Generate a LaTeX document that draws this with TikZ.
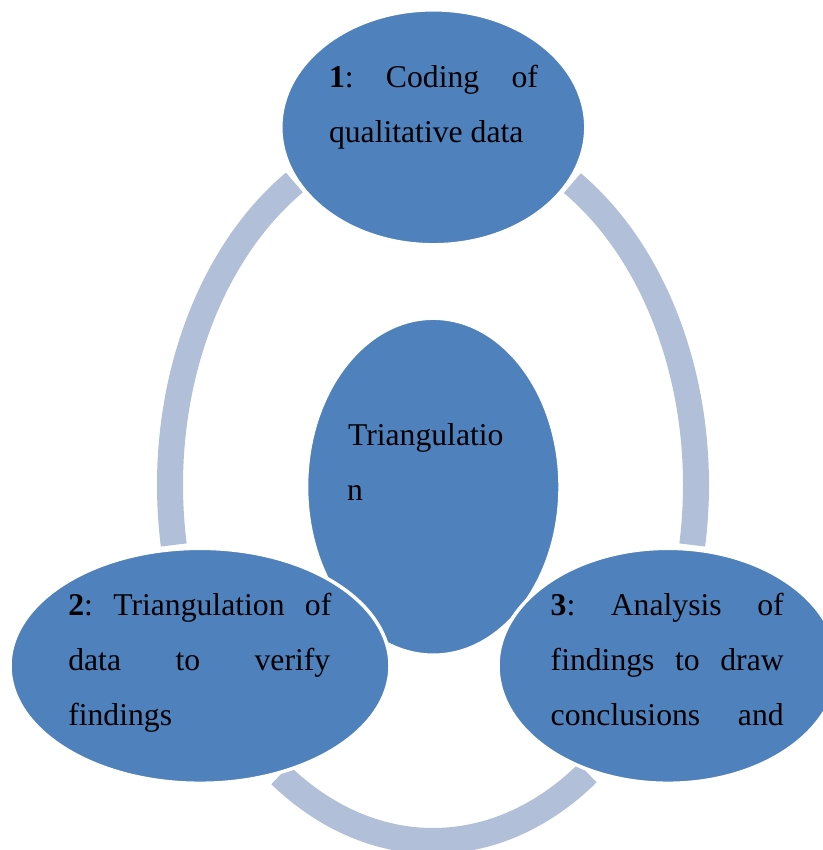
\documentclass[tikz,border=0pt]{standalone}
\usepackage{fontspec}
\setmainfont{Liberation Serif}
\usetikzlibrary{shapes.geometric}
\definecolor{blobblue}{RGB}{79,129,189}
\definecolor{ringblue}{RGB}{177,192,216}
\begin{document}
\begin{tikzpicture}[x=1bp,y=-1bp,
  blob/.style={ellipse, fill=blobblue, draw=white, line width=3.5bp, inner sep=0pt, outer sep=0pt},
  ringarc/.style={draw=ringblue, line width=26bp},
  txt/.style={anchor=base west, inner sep=0pt, outer sep=0pt, font=\fontsize{31.8}{40}\selectfont, text=black}]
\useasboundingbox (0,0) rectangle (823,850);
\clip (0,0) rectangle (823,850);
\fill[white] (0,0) rectangle (823,850);
% ring arcs
\coordinate (rc) at (433,485);
\draw[ringarc] (rc) ++(170.3:263 and 356) arc[start angle=170.3, end angle=238.2, x radius=263, y radius=356];
\draw[ringarc] (rc) ++(-58:263 and 356) arc[start angle=-58, end angle=9.7, x radius=263, y radius=356];
\draw[ringarc] (rc) ++(54:263 and 356) arc[start angle=54, end angle=125.5, x radius=263, y radius=356];
% ellipses
\node[blob, minimum width=253.5bp, minimum height=337bp] (cen) at (433.3,486.7) {};
\node[blob, minimum width=305bp, minimum height=235bp] (top) at (433.3,127.3) {};
\node[blob, minimum width=380bp, minimum height=235bp] (lft) at (200,665.8) {};
\node[blob, minimum width=340bp, minimum height=235bp] (rgt) at (668,665.8) {};
% texts
\node[txt] (t1a) at (329,87) {\hbox to 209bp{\textbf{1}:\hfill Coding\hfill of}};
\node[txt] (t1b) at (329,142) {qualitative data};
\node[txt] (tca) at (348,445) {Triangulatio};
\node[txt] (tcb) at (347,500) {n};
\node[txt] (t2a) at (68.3,615) {\hbox to 263bp{\textbf{2}:\hfill Triangulation\hfill of}};
\node[txt] (t2b) at (68.3,670) {\hbox to 262bp{data\hfill to\hfill verify}};
\node[txt] (t2c) at (68.3,725) {findings};
\node[txt] (t3a) at (550.7,615) {\hbox to 233bp{\textbf{3}:\hfill Analysis\hfill of}};
\node[txt] (t3b) at (550.7,670) {\hbox to 233bp{findings\hfill to\hfill draw}};
\node[txt] (t3c) at (550.7,725) {\hbox to 233bp{conclusions\hfill and}};
\end{tikzpicture}
\end{document}
